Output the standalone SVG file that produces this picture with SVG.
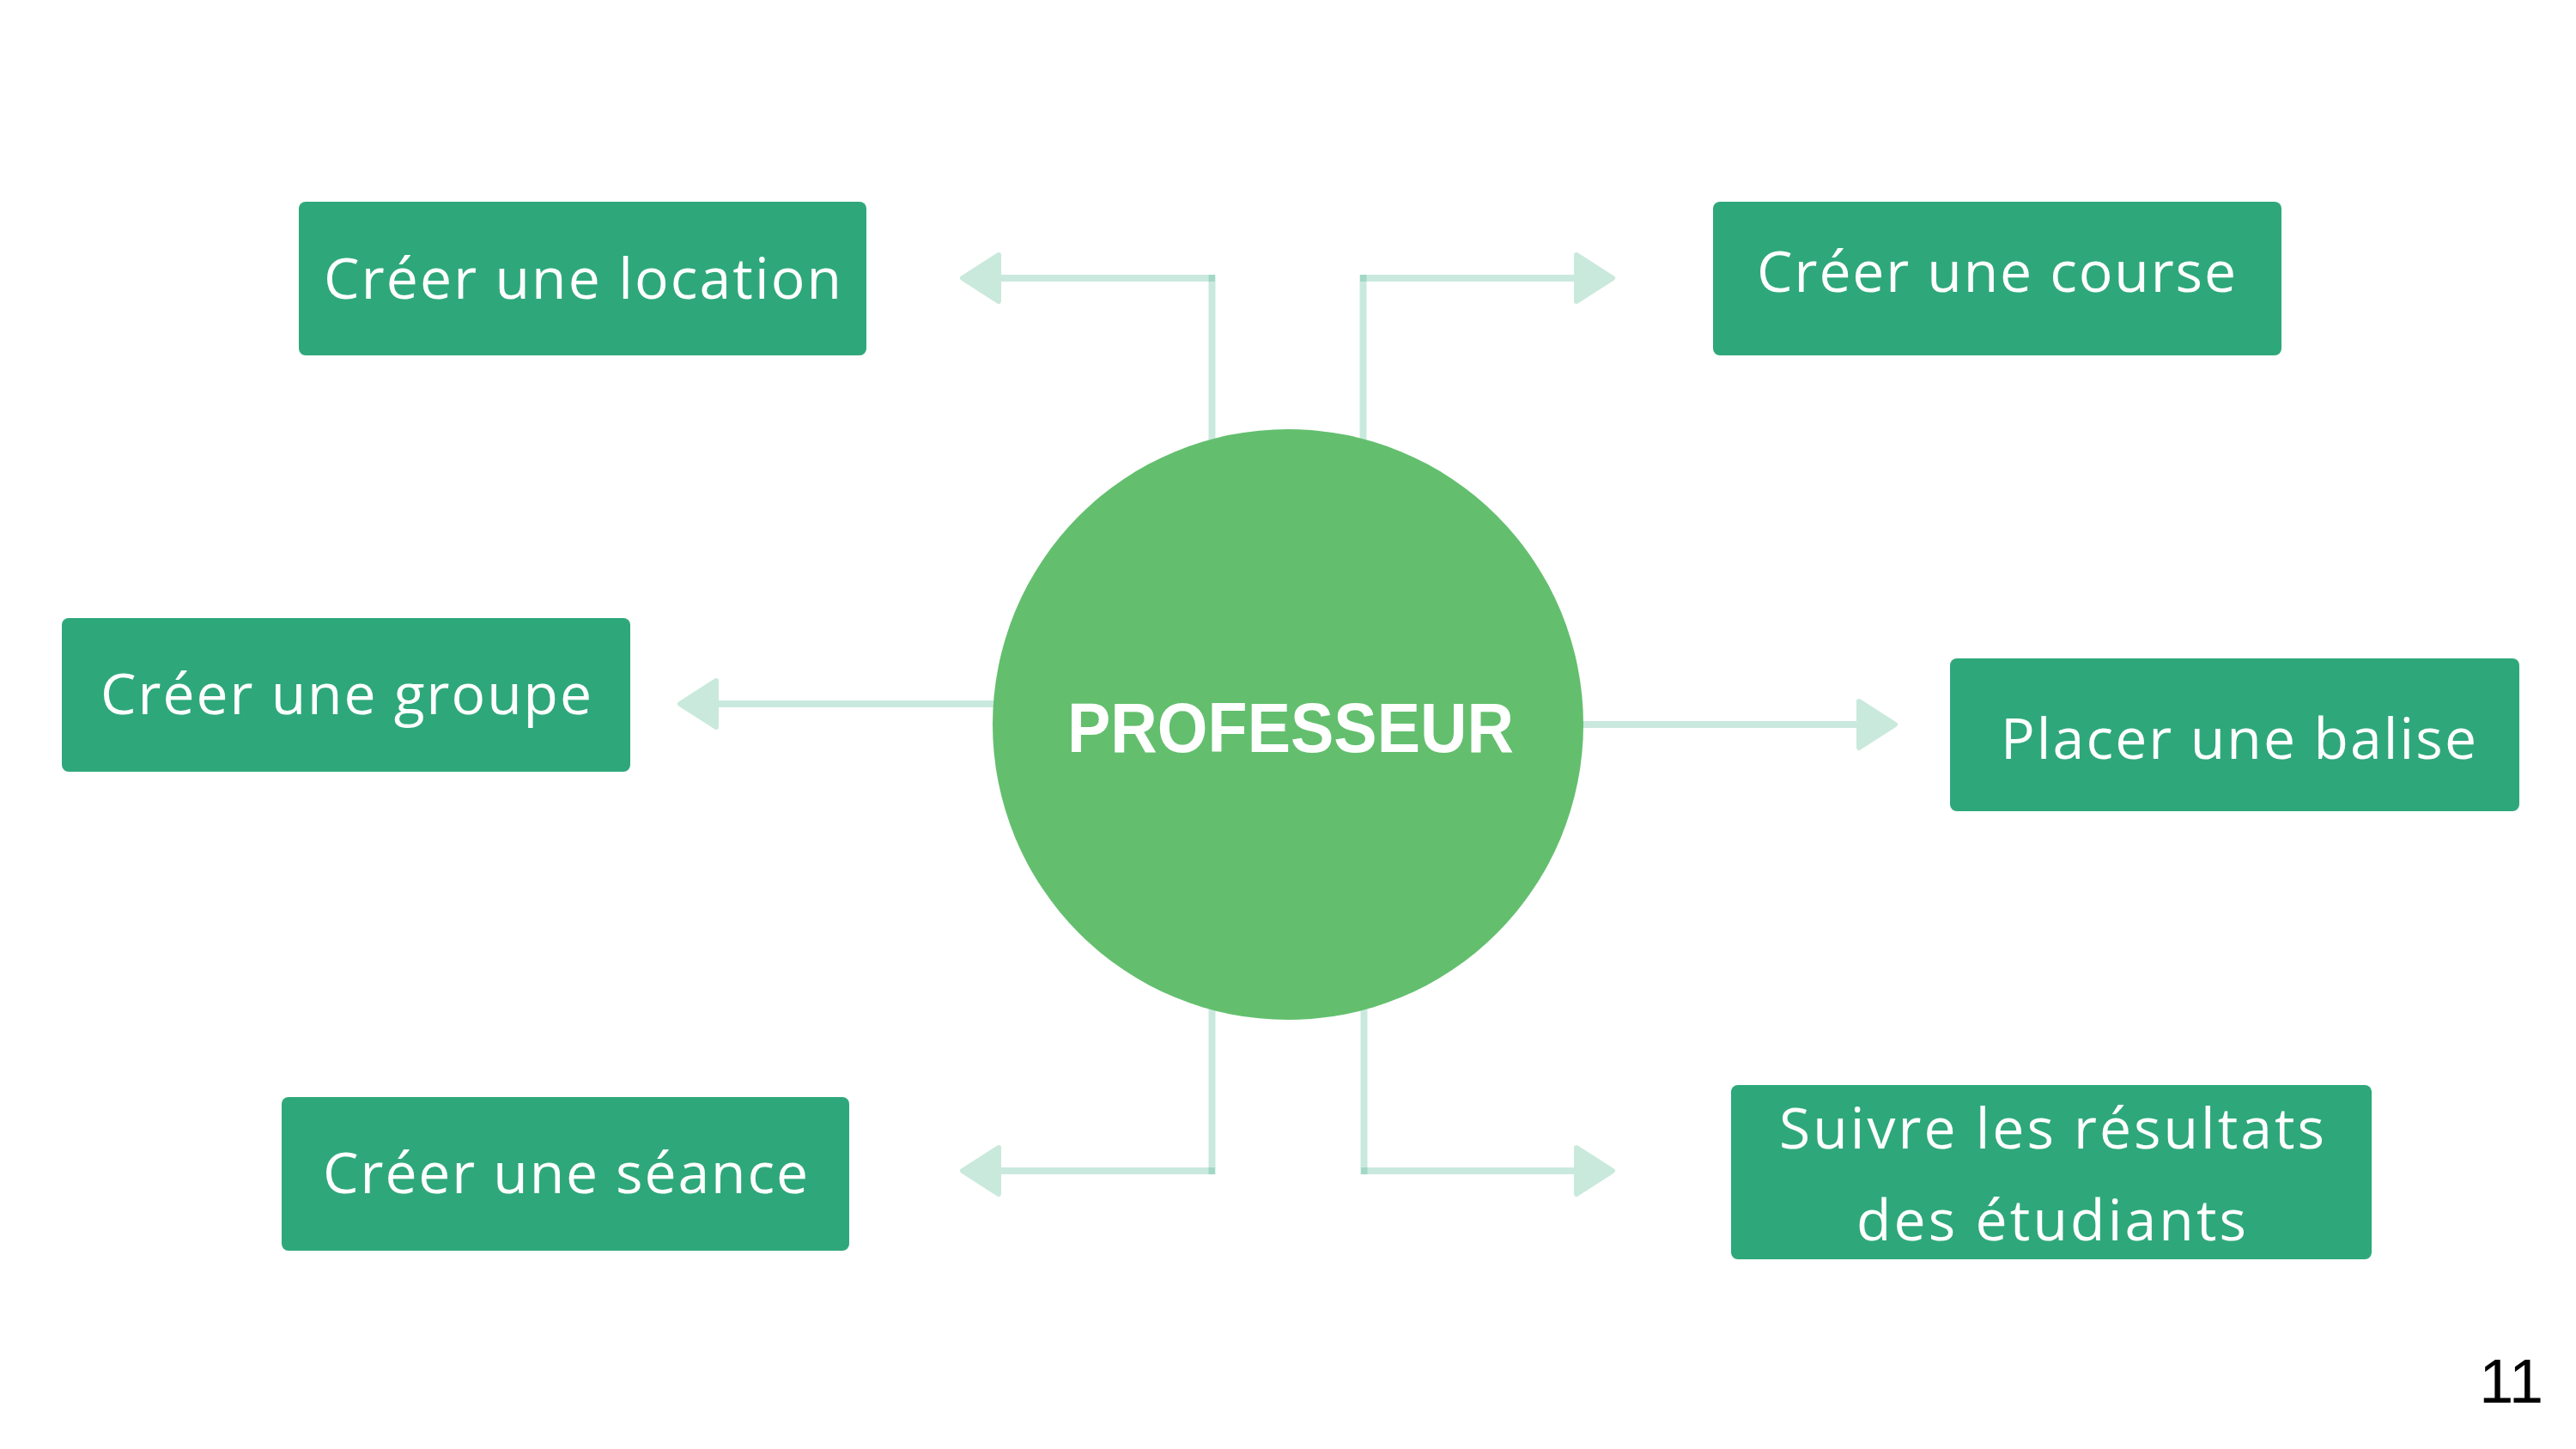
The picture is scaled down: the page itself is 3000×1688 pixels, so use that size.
<svg xmlns="http://www.w3.org/2000/svg" xmlns:xlink="http://www.w3.org/1999/xlink" width="3000" height="1688" viewBox="0 0 3000 1688">
<style>
.box{fill:#2ea87a}
.lbl{fill:#ffffff;font-family:"Open Sans","Liberation Sans",sans-serif;font-size:66px}
.ln{stroke:#2ca87a;stroke-opacity:0.25;stroke-width:8;fill:none}
.ah{fill:#c9e9dc;stroke:#c9e9dc;stroke-width:6;stroke-linejoin:round}
.hub{fill:#63bf6e}
.hubt{fill:#ffffff;font-family:"Liberation Sans",Arial,sans-serif;font-weight:bold;font-size:82px}
.pg{fill:#000000;font-family:"Liberation Sans",Arial,sans-serif;font-size:72px}
</style>
<defs>
<path id="ahR" class="ah" d="M0,-27 L42,0 L0,27 Z"/>
<path id="ahL" class="ah" d="M0,-27 L-42,0 L0,27 Z"/>
</defs>
<rect width="3000" height="1688" fill="#ffffff"/>
<g id="connectors">
<line class="ln" x1="1411.5" y1="320" x2="1411.5" y2="620"/>
<line class="ln" x1="1415" y1="324" x2="1152" y2="324"/>
<use xlink:href="#ahL" x="1163" y="324"/>
<line class="ln" x1="1587.5" y1="320" x2="1587.5" y2="620"/>
<line class="ln" x1="1584" y1="324" x2="1846" y2="324"/>
<use xlink:href="#ahR" x="1836" y="324"/>
<line class="ln" x1="1250" y1="820" x2="824" y2="820"/>
<use xlink:href="#ahL" x="834" y="820"/>
<line class="ln" x1="1750" y1="844" x2="2175" y2="844"/>
<use xlink:href="#ahR" x="2165" y="844"/>
<line class="ln" x1="1411.5" y1="1080" x2="1411.5" y2="1368"/>
<line class="ln" x1="1415" y1="1364" x2="1152" y2="1364"/>
<use xlink:href="#ahL" x="1163" y="1364"/>
<line class="ln" x1="1588.5" y1="1080" x2="1588.5" y2="1368"/>
<line class="ln" x1="1585" y1="1364" x2="1846" y2="1364"/>
<use xlink:href="#ahR" x="1836" y="1364"/>
</g>
<g id="professeur">
<circle class="hub" cx="1500" cy="844" r="344"/>
<text class="hubt" x="1243" y="876" textLength="520" lengthAdjust="spacingAndGlyphs">PROFESSEUR</text>
</g>
<g id="creer-location">
<rect class="box" x="348" y="235" width="661" height="179" rx="8"/>
<text class="lbl" x="377" y="348" textLength="603" lengthAdjust="spacing">Créer une location</text>
</g>
<g id="creer-course">
<rect class="box" x="1995" y="235" width="662" height="179" rx="8"/>
<text class="lbl" x="2046" y="340" textLength="558" lengthAdjust="spacing">Créer une course</text>
</g>
<g id="creer-groupe">
<rect class="box" x="72" y="720" width="662" height="179" rx="8"/>
<text class="lbl" x="117" y="832" textLength="572" lengthAdjust="spacing">Créer une groupe</text>
</g>
<g id="placer-balise">
<rect class="box" x="2271" y="767" width="663" height="178" rx="8"/>
<text class="lbl" x="2330" y="884" textLength="554" lengthAdjust="spacing">Placer une balise</text>
</g>
<g id="creer-seance">
<rect class="box" x="328" y="1278" width="661" height="179" rx="8"/>
<text class="lbl" x="376" y="1390" textLength="565" lengthAdjust="spacing">Créer une séance</text>
</g>
<g id="suivre-resultats">
<rect class="box" x="2016" y="1264" width="746" height="203" rx="8"/>
<text class="lbl" x="2072" y="1338" textLength="635" lengthAdjust="spacing">Suivre les résultats</text>
<text class="lbl" x="2162" y="1445" textLength="454" lengthAdjust="spacing">des étudiants</text>
</g>
<text class="pg" x="2962" y="1634" text-anchor="end">11</text>
</svg>
